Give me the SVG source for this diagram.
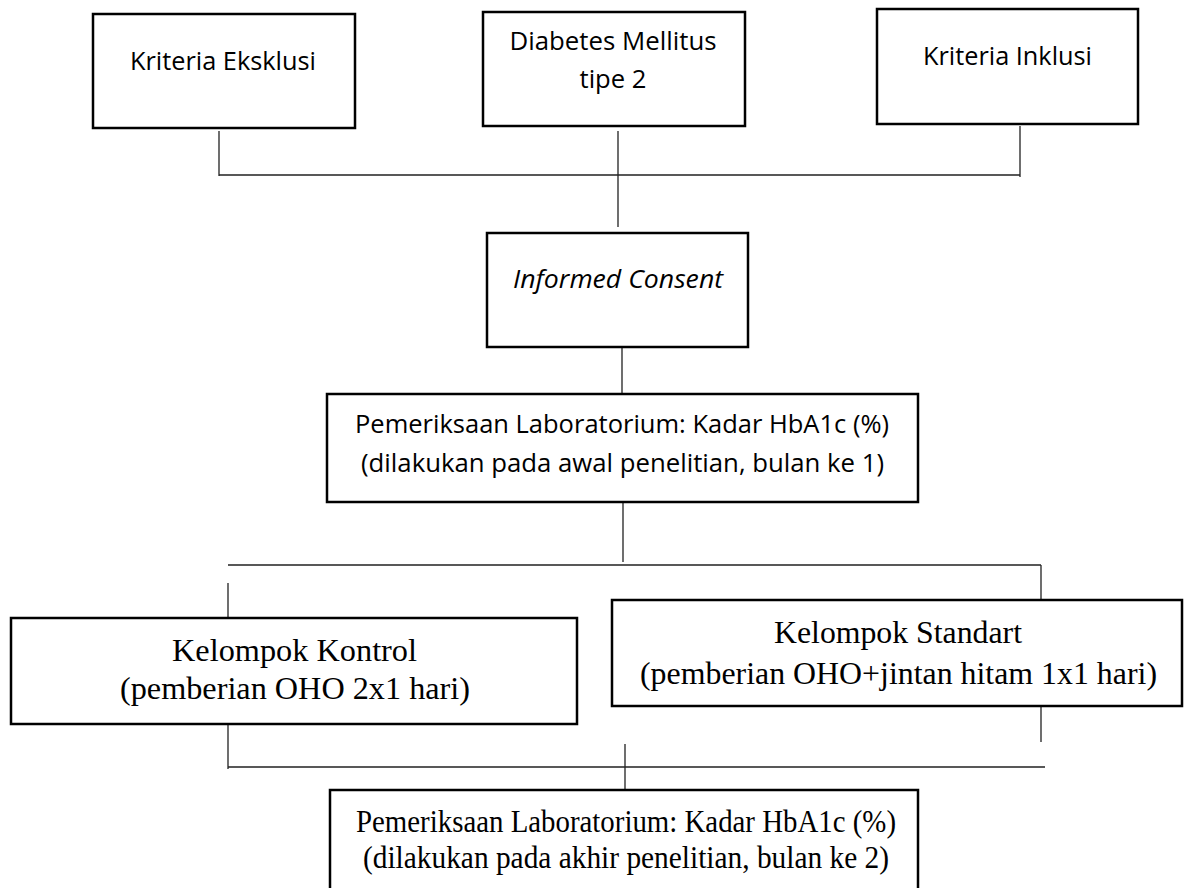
<svg xmlns="http://www.w3.org/2000/svg" width="1189" height="888" viewBox="0 0 1189 888">
<style>
.box{fill:#fff;stroke:#000;stroke-width:2.5}
.ln{fill:none;stroke:#222;stroke-width:1.3}
.sans{font-family:"Open Sans","Noto Sans",sans-serif;font-size:26px;fill:#000;text-anchor:middle}
.serif{font-family:"Liberation Serif","Times New Roman",serif;font-size:31px;fill:#000;text-anchor:middle}
.it{font-style:italic}
</style>
<rect width="1189" height="888" fill="#fff"/>
<g id="connectors">
<path class="ln" d="M219 131V176M219 175H1020M1020 126V177M618 131V227M622 347V404M623 502V562M228 565H1041M1041 565V600M228 583V620M228 724V769M1041 703V742M228 767H1045M625 744V790"/>
</g>
<g id="n-eksklusi">
<rect class="box" x="93" y="14" width="262" height="114"/>
<text class="sans" x="223" y="70" textLength="186" lengthAdjust="spacingAndGlyphs">Kriteria Eksklusi</text>
</g>
<g id="n-dm">
<rect class="box" x="483" y="12" width="262" height="114"/>
<text class="sans" x="613" y="50" textLength="207" lengthAdjust="spacingAndGlyphs">Diabetes Mellitus</text>
<text class="sans" x="613" y="88" textLength="67" lengthAdjust="spacingAndGlyphs">tipe 2</text>
</g>
<g id="n-inklusi">
<rect class="box" x="877" y="9" width="261" height="115"/>
<text class="sans" x="1007.5" y="65" textLength="169" lengthAdjust="spacingAndGlyphs">Kriteria Inklusi</text>
</g>
<g id="n-consent">
<rect class="box" x="487" y="233" width="261" height="114"/>
<text class="sans it" x="618" y="288" textLength="210" lengthAdjust="spacingAndGlyphs">Informed Consent</text>
</g>
<g id="n-lab1">
<rect class="box" x="327" y="394" width="591" height="108"/>
<text class="sans" x="622" y="433" textLength="534" lengthAdjust="spacingAndGlyphs">Pemeriksaan Laboratorium: Kadar HbA1c (%)</text>
<text class="sans" x="622.5" y="472" textLength="523" lengthAdjust="spacingAndGlyphs">(dilakukan pada awal penelitian, bulan ke 1)</text>
</g>
<g id="n-kontrol">
<rect class="box" x="11" y="618" width="566" height="106"/>
<text class="serif" x="294.5" y="661" textLength="245" lengthAdjust="spacingAndGlyphs">Kelompok Kontrol</text>
<text class="serif" x="295" y="699" textLength="350" lengthAdjust="spacingAndGlyphs">(pemberian OHO 2x1 hari)</text>
</g>
<g id="n-standart">
<rect class="box" x="612" y="600" width="570" height="106"/>
<text class="serif" x="898" y="643" textLength="248" lengthAdjust="spacingAndGlyphs">Kelompok Standart</text>
<text class="serif" x="898.5" y="684" textLength="517" lengthAdjust="spacingAndGlyphs">(pemberian OHO+jintan hitam 1x1 hari)</text>
</g>
<g id="n-lab2">
<rect class="box" x="330" y="790" width="588" height="110"/>
<text class="serif" x="626" y="832" textLength="540" lengthAdjust="spacingAndGlyphs">Pemeriksaan Laboratorium: Kadar HbA1c (%)</text>
<text class="serif" x="626" y="868" textLength="526" lengthAdjust="spacingAndGlyphs">(dilakukan pada akhir penelitian, bulan ke 2)</text>
</g>
</svg>
